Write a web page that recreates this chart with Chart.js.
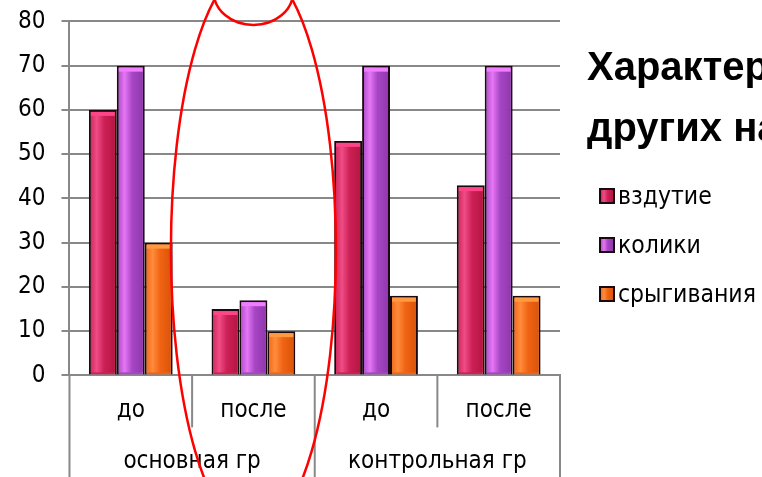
<!DOCTYPE html>
<html>
<head>
<meta charset="utf-8">
<script src="https://cdn.jsdelivr.net/npm/chart.js@4/dist/chart.umd.min.js"></script>
<style>
  html, body { margin: 0; padding: 0; background: #fff; overflow: hidden; }
  #wrap { width: 762px; height: 477px; }
</style>
</head>
<body>
<div id="wrap"><canvas id="myChart" width="762" height="477"></canvas></div>
<script>
const categories = ['до', 'после', 'до', 'после'];
const groups = ['основная гр', 'контрольная гр'];
const seriesNames = ['вздутие', 'колики', 'срыгивания'];
const vzdutie = [60, 15, 53, 43];
const koliki = [70, 17, 70, 70];
const srygivaniya = [30, 10, 18, 18];
const yTicks = [0, 10, 20, 30, 40, 50, 60, 70, 80];
const titleLines = ['Характер', 'других на'];

// base / light / dark tones of each series
const baseColors = ['#cc2056', '#a646c4', '#f06414'];
const lightColors = ['#f04c86', '#e676f4', '#ff8c3c'];
const darkColors = ['#b4143f', '#8e36aa', '#d85208'];
const topColors = ['#ff4488', '#f07cff', '#ff9a40'];

const FONT = 'DejaVu Sans Condensed';
Chart.defaults.font.family = FONT;
Chart.defaults.color = '#000';

function barGradient(ctx, left, width, i) {
  const g = ctx.createLinearGradient(left, 0, left + width, 0);
  g.addColorStop(0, baseColors[i]);
  g.addColorStop(0.28, lightColors[i]);
  g.addColorStop(0.55, baseColors[i]);
  g.addColorStop(1, darkColors[i]);
  return g;
}

// shading of the bars, drawn over the library's bar elements
const bevel = {
  id: 'bevel',
  afterDatasetsDraw(chart) {
    const ctx = chart.ctx;
    chart.data.datasets.forEach((ds, i) => {
      chart.getDatasetMeta(i).data.forEach(bar => {
        const left = bar.x - bar.width / 2;
        const top = bar.y;
        const h = bar.base - bar.y;
        ctx.save();
        ctx.fillStyle = barGradient(ctx, left, bar.width, i);
        ctx.fillRect(left + 2, top + 2, bar.width - 4, h - 4);
        ctx.fillStyle = topColors[i];
        ctx.fillRect(left + 2, top + 2, bar.width - 4, 4);
        ctx.restore();
      });
    });
  }
};

// divider lines of the two-level category axis
const dividers = {
  id: 'dividers',
  afterDraw(chart) {
    const ctx = chart.ctx;
    const x = chart.scales.x;
    const x2 = chart.scales.x2;
    const step = x.width / categories.length;
    ctx.save();
    ctx.strokeStyle = '#888';
    ctx.lineWidth = 2;
    for (let i = 0; i <= categories.length; i++) {
      const px = x.left + i * step;
      const full = i % (categories.length / groups.length) === 0;
      ctx.beginPath();
      ctx.moveTo(px, x.top);
      ctx.lineTo(px, full ? x2.bottom + 2 : x.top + 52);
      ctx.stroke();
    }
    ctx.restore();
  }
};

// title, legend and the red ellipse
const extras = {
  id: 'extras',
  afterDraw(chart) {
    const ctx = chart.ctx;
    ctx.save();
    ctx.fillStyle = '#000';
    ctx.font = 'bold 40px "Liberation Sans"';
    ctx.textBaseline = 'alphabetic';
    ctx.textAlign = 'left';
    ctx.fillText(titleLines[0], 587, 80);
    ctx.fillText(titleLines[1], 587, 141);

    ctx.font = '24.5px "' + FONT + '"';
    ctx.textBaseline = 'middle';
    chart.data.datasets.forEach((ds, i) => {
      const cy = 196 + i * 49;
      ctx.fillStyle = barGradient(ctx, 600, 14, i);
      ctx.fillRect(600, cy - 7, 14, 14);
      ctx.strokeStyle = '#1a0a10';
      ctx.lineWidth = 2;
      ctx.strokeRect(600, cy - 7, 14, 14);
      ctx.fillStyle = '#000';
      ctx.fillText(ds.label, 618, cy + 2);
    });

    const cx = chart.scales.x.getPixelForValue(1);
    ctx.strokeStyle = '#ff0000';
    ctx.lineWidth = 2.5;
    ctx.beginPath();
    ctx.ellipse(cx, 250, 82.5, 284, 0, 0, Math.PI * 2);
    ctx.stroke();
    ctx.beginPath();
    ctx.ellipse(cx, -8, 39.7, 33, 0, 0, Math.PI);
    ctx.stroke();
    ctx.restore();
  }
};

const seriesData = [vzdutie, koliki, srygivaniya];
const tickFont = { family: FONT, size: 24 };

new Chart(document.getElementById('myChart').getContext('2d'), {
  type: 'bar',
  data: {
    labels: categories,
    datasets: seriesNames.map((name, i) => ({
      label: name,
      data: seriesData[i],
      backgroundColor: baseColors[i],
      borderColor: '#1a0a10',
      borderWidth: 2,
      barPercentage: 1,
      categoryPercentage: 0.683
    }))
  },
  options: {
    responsive: false,
    animation: false,
    layout: { padding: { top: 10, left: 2, right: 202, bottom: 0 } },
    plugins: { legend: { display: false }, tooltip: { enabled: false } },
    scales: {
      y: {
        min: 0,
        max: 80,
        afterBuildTicks: axis => { axis.ticks = yTicks.map(v => ({ value: v })); },
        grid: { color: '#888', lineWidth: 2, tickLength: 8 },
        border: { color: '#888', width: 2 },
        ticks: { font: { family: FONT, size: 24, lineHeight: 0.45 }, color: '#000', padding: 16 }
      },
      x: {
        grid: { display: false, drawTicks: false },
        border: { color: '#888', width: 2 },
        ticks: { font: tickFont, color: '#000', padding: 21, maxRotation: 0, autoSkip: false }
      },
      x2: {
        type: 'category',
        labels: groups,
        position: 'bottom',
        offset: true,
        grid: { display: false, drawTicks: false },
        border: { display: false },
        ticks: { font: tickFont, color: '#000', padding: 1, maxRotation: 0, autoSkip: false }
      }
    }
  },
  plugins: [bevel, dividers, extras]
});
</script>
</body>
</html>
